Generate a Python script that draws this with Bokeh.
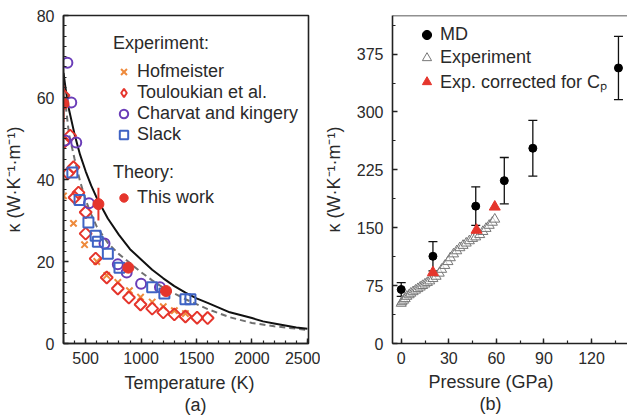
from bokeh.plotting import figure
from bokeh.models import (ColumnDataSource, Legend, LegendItem, Whisker, TeeHead,
                          SingleIntervalTicker, Range1d, Title, Span)
from bokeh.layouts import row
from bokeh.embed import file_html
from bokeh.resources import INLINE
import numpy as np

# ---------------- data: panel (a) ----------------
curve_solid_T = [300, 320, 350, 400, 450, 500, 550, 600, 650, 700, 800, 900, 1000, 1100,
                 1200, 1300, 1400, 1500, 1600, 1800, 2000, 2100, 2200, 2400, 2500]
curve_solid_k = [66, 62, 57, 51, 46, 42, 38.5, 35.5, 33, 30.5, 26.5, 23, 20.5, 18,
                 15.9, 14, 12.4, 11, 9.9, 7.6, 6.2, 5.4, 4.9, 3.9, 3.6]
curve_dash_T = [320, 350, 400, 450, 500, 550, 600, 700, 800, 900, 1000, 1100, 1200,
                1400, 1600, 1800, 2000, 2200, 2500]
curve_dash_k = [58, 51, 45, 39.5, 35, 31.5, 28.5, 24.5, 21.8, 19.6, 17.4, 15.4, 13.6,
                10.8, 8.4, 6.4, 5.0, 4.2, 3.3]

hof_T = [300, 390, 490, 600, 690, 790, 895, 995, 1100, 1200, 1300, 1400]
hof_k = [36, 29.3, 24.1, 20, 16.6, 14.9, 12.9, 11.3, 10.1, 9.0, 8.0, 7.3]

tou_T = [300, 300, 360, 390, 340, 435, 400, 500, 500, 590, 690, 790, 890, 995, 1100,
         1200, 1300, 1400, 1505, 1600]
tou_k = [60.5, 49, 50.7, 43, 41.5, 36.8, 35.6, 32, 26.8, 20.7, 16.1, 13.4, 11.2, 9.5,
         8.5, 7.6, 7.1, 6.6, 6.3, 6.2]

cha_T = [335, 370, 315, 415, 530, 670, 790, 870, 1000, 1170]
cha_k = [68.5, 58.8, 49.5, 49, 34.2, 24.4, 19.3, 17.3, 14.6, 13.7]

sla_T = [380, 445, 525, 590, 610, 700, 805, 1100, 1210, 1400, 1445]
sla_k = [41.7, 35, 29.5, 26.3, 24.8, 21.9, 18.5, 13.7, 12.2, 10.8, 10.8]

tw_T = [300, 615, 885, 1225]
tw_k = [58.5, 34, 18.5, 12.8]
tw_err = [4.5, 4, 1.2, 0.8]

# ---------------- data: panel (b) ----------------
md_P = [0, 20, 47, 65, 83, 137]
md_k = [70, 113, 178, 211, 253, 357]
md_err = [9, 19, 25, 30, 36, 41]

exp_P = [0, 0.5, 1.5, 2.5, 3.5, 5, 6, 7.5, 9, 10.5, 12, 13.5, 15, 16.5, 18, 20, 22, 24,
         25.5, 27.5, 29.5, 31, 33, 35, 37, 39, 41, 43, 45, 47, 49.5, 51.5, 53.5, 55.5,
         57.5, 59]
exp_k = [52, 54, 56, 58, 61, 63, 65, 67, 69, 71, 73, 75, 77, 79, 81, 84, 87, 91, 96,
         101, 106, 111, 116, 120, 124, 127, 130, 133, 136, 138, 141, 145, 149, 153,
         157, 161]

cor_P = [20, 47.5, 59]
cor_k = [92, 147, 177]

# ---------------- style ----------------
FONT = "Liberation Sans"
TXT = "#2a2a2a"
AX = "#222222"
ORANGE = "#EE8A3C"
RED = "#E5352C"
PURPLE = "#6A3DB8"
BLUE = "#3F63C4"
KLABEL = "κ (W·K⁻¹·m⁻¹)"


def style_axes(p, xt, yt):
    p.xaxis.ticker = xt
    p.yaxis.ticker = yt
    for ax in list(p.xaxis) + list(p.yaxis):
        ax.major_tick_in = 5
        ax.major_tick_out = 0
        ax.minor_tick_in = 3
        ax.minor_tick_out = 0
        ax.axis_line_width = 1.6
        ax.axis_line_color = AX
        ax.major_tick_line_color = AX
        ax.minor_tick_line_color = AX
        ax.major_tick_line_width = 1.4
        ax.minor_tick_line_width = 1.2
        ax.major_label_text_font = FONT
        ax.major_label_text_font_size = "16px"
        ax.major_label_text_color = TXT
        ax.axis_label_text_font = FONT
        ax.axis_label_text_font_size = "18px"
        ax.axis_label_text_font_style = "normal"
        ax.axis_label_text_color = TXT
    p.xaxis.major_label_standoff = 8
    p.yaxis.major_label_standoff = 9
    p.grid.visible = False


def add_title(p, text, offset, standoff):
    p.add_layout(Title(text=text, align="left", offset=offset, standoff=standoff,
                       text_font=FONT, text_font_size="18px", text_font_style="normal",
                       text_color=TXT), "below")


def style_legend(leg):
    leg.label_text_font = FONT
    leg.label_text_font_size = "18px"
    leg.label_text_color = TXT
    leg.title_text_font = FONT
    leg.title_text_font_size = "18px"
    leg.title_text_font_style = "normal"
    leg.title_text_color = TXT
    leg.border_line_color = None
    leg.background_fill_alpha = 0
    leg.padding = 0
    leg.margin = 0


# ---------------- panel (a) ----------------
p1 = figure(width=320, height=415, x_range=Range1d(300, 2510), y_range=Range1d(0, 80),
            output_backend="svg", toolbar_location=None,
            min_border_left=63, min_border_right=12, min_border_top=15, min_border_bottom=72)
p1.outline_line_color = AX
p1.outline_line_width = 1.6
style_axes(p1, SingleIntervalTicker(interval=500, num_minor_ticks=5),
           SingleIntervalTicker(interval=20, num_minor_ticks=8))
p1.yaxis.axis_label = KLABEL
p1.yaxis.axis_label_standoff = 10

p1.line(curve_dash_T, curve_dash_k, line_color="#707070", line_width=2, line_dash="6 4")
p1.line(curve_solid_T, curve_solid_k, line_color="#111111", line_width=2)

r_hof = p1.scatter(hof_T, hof_k, marker="x", size=9, line_color=ORANGE, line_width=2)
# rotated squares for the data points; a zero-size diamond renderer serves as legend proxy
p1.scatter(tou_T, tou_k, marker="square", angle=np.pi / 4, size=8.5,
           line_color=RED, fill_color=None, line_width=2)
r_tou = p1.scatter(tou_T, tou_k, marker="diamond", size=0,
                   line_color=RED, fill_color=None, line_width=2)
r_cha = p1.scatter(cha_T, cha_k, marker="circle", size=10, line_color=PURPLE,
                   fill_color=None, line_width=2)
r_sla = p1.scatter(sla_T, sla_k, marker="square", size=10, line_color=BLUE,
                   fill_color=None, line_width=2)

tw_lo = [k - e for k, e in zip(tw_k, tw_err)]
tw_hi = [k + e for k, e in zip(tw_k, tw_err)]
p1.segment(tw_T, tw_lo, tw_T, tw_hi, line_color=RED, line_width=2)
r_tw = p1.scatter(tw_T, tw_k, marker="circle", size=11, fill_color=RED, line_color=RED)

leg1 = Legend(items=[LegendItem(label="Hofmeister", renderers=[r_hof]),
                     LegendItem(label="Touloukian et al.", renderers=[r_tou]),
                     LegendItem(label="Charvat and kingery", renderers=[r_cha]),
                     LegendItem(label="Slack", renderers=[r_sla])],
              title="Experiment:", location=(50, 198))
style_legend(leg1)
leg1.label_height = 21
leg1.glyph_height = 21
leg1.glyph_width = 21
leg1.spacing = 0
leg1.label_standoff = 3
leg1.title_standoff = 7
p1.add_layout(leg1)

leg2 = Legend(items=[LegendItem(label="This work", renderers=[r_tw])],
              title="Theory:", location=(50, 135))
style_legend(leg2)
leg2.label_height = 21
leg2.glyph_height = 21
leg2.glyph_width = 21
leg2.label_standoff = 3
leg2.title_standoff = 4
p1.add_layout(leg2)

add_title(p1, "Temperature (K)", 61, 8)
add_title(p1, "(a)", 121, -7)

# ---------------- panel (b) ----------------
p2 = figure(width=307, height=415, x_range=Range1d(-5.5, 142.7), y_range=Range1d(0, 425),
            output_backend="svg", toolbar_location=None,
            min_border_left=65, min_border_right=0, min_border_top=13, min_border_bottom=71)
p2.outline_line_color = None
style_axes(p2, SingleIntervalTicker(interval=30, num_minor_ticks=2),
           SingleIntervalTicker(interval=75, num_minor_ticks=2))
p2.yaxis.axis_label = KLABEL
p2.yaxis.axis_label_standoff = 10
p2.add_layout(Span(location=425, dimension="width", line_color=AX, line_width=1.6))

r_exp = p2.scatter(exp_P, exp_k, marker="triangle", size=10, line_color="#777777",
                   fill_color="white", fill_alpha=0.6, line_width=1)
r_cor = p2.scatter(cor_P, cor_k, marker="triangle", size=11, line_color=RED, fill_color=RED)

md_src = ColumnDataSource(data=dict(
    P=md_P, k=md_k,
    lo=[k - e for k, e in zip(md_k, md_err)],
    hi=[k + e for k, e in zip(md_k, md_err)]))
p2.add_layout(Whisker(source=md_src, base="P", lower="lo", upper="hi",
                      line_color="#111111", line_width=1.3,
                      upper_head=TeeHead(size=9, line_color="#111111", line_width=1.3),
                      lower_head=TeeHead(size=9, line_color="#111111", line_width=1.3)))
r_md = p2.scatter("P", "k", source=md_src, marker="circle", size=8,
                  fill_color="#000000", line_color="#000000")

leg3 = Legend(items=[LegendItem(label="MD", renderers=[r_md]),
                     LegendItem(label="Experiment", renderers=[r_exp]),
                     LegendItem(label="Exp. corrected for Cₚ", renderers=[r_cor])],
              location=(23, 250))
style_legend(leg3)
leg3.label_height = 23
leg3.glyph_height = 23
leg3.glyph_width = 23
leg3.spacing = 0
leg3.label_standoff = 2
p2.add_layout(leg3)

add_title(p2, "Pressure (GPa)", 36, 7)
add_title(p2, "(b)", 87, -7)

layout = row(p1, p2)
open("out.html", "w").write(file_html(layout, INLINE))
